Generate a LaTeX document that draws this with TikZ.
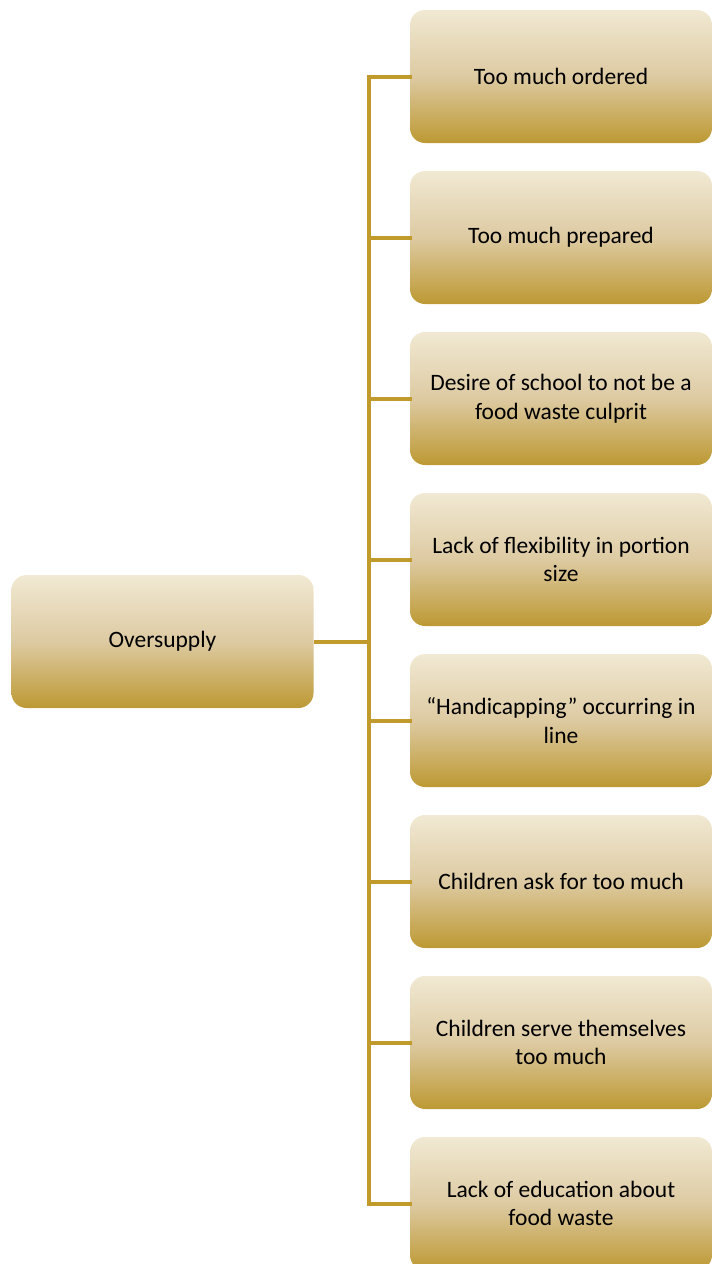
\documentclass[tikz,border=0pt]{standalone}
\usepackage{fontspec}
\setmainfont{Carlito}
\definecolor{gtop}{HTML}{F1E9D3}
\definecolor{gmid}{HTML}{DDCAA2}
\definecolor{gbot}{HTML}{BD9933}
\definecolor{conn}{HTML}{C09A2A}
\newcommand\boxfontsel{\fontsize{23.5}{28.5}\selectfont}
\begin{document}
\begin{tikzpicture}[x=1pt,y=-1pt,
  box/.style={rectangle, rounded corners=15pt, minimum width=302pt, minimum height=133pt,
    align=center, top color=gtop, bottom color=gbot, middle color=gmid,
    font=\boxfontsel, inner sep=0pt},
  link/.style={draw=conn, line width=4pt}]
\useasboundingbox (0,0) rectangle (718,1264);
\node[box] (root) at (162.5,641.5) {Oversupply};
\foreach \i/\t in {1/{Too much ordered},2/{Too much prepared},3/{Desire of school to not be a\\food waste culprit},4/{Lack of flexibility in portion\\size},5/{``Handicapping'' occurring in\\line},6/{Children ask for too much},7/{Children serve themselves\\too much},8/{Lack of education about\\food waste}}{
  \node[box] (c\i) at (561,{76.5+(\i-1)*161}) {\t};
}
\coordinate (trunk) at (369,641.5);
\draw[link] (root.east) -- (trunk);
\foreach \i in {1,...,8}{
  \draw[link, line cap=rect] (trunk |- c\i.west) -- (c\i.west);
}
\draw[link, line cap=rect] (trunk |- c1.west) -- (trunk |- c8.west);
\end{tikzpicture}
\end{document}
